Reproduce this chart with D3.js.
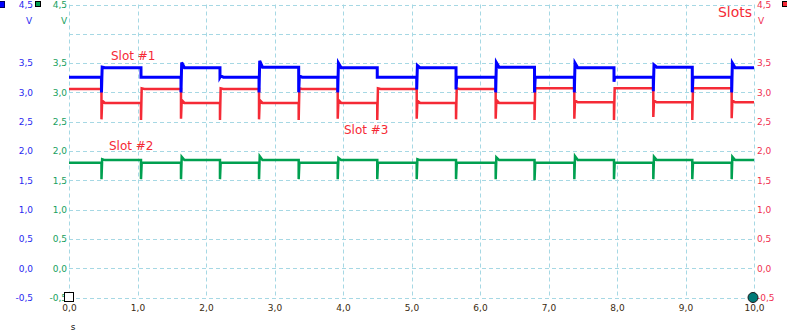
<!DOCTYPE html>
<html>
<head>
<meta charset="utf-8">
<script src="https://cdn.jsdelivr.net/npm/d3@7"></script>
<style>
  html, body { margin: 0; padding: 0; background: #fff; }
  svg { display: block; }
  text { font-family: "DejaVu Sans", sans-serif; }
</style>
</head>
<body>
<svg id="chart" width="787" height="334"></svg>
<script>
// ---- data ----
const xTicks = [0, 1, 2, 3, 4, 5, 6, 7, 8, 9, 10];
const yTicks = [-0.5, 0, 0.5, 1, 1.5, 2, 2.5, 3, 3.5, 4, 4.5];
const yLabelTicks = [-0.5, 0, 0.5, 1, 1.5, 2, 2.5, 3, 3.5, 4.5];

// times (s) of the switching edges
const edgeTimes = [0.474, 1.051, 1.635, 2.204, 2.774, 3.353, 3.923, 4.500, 5.076,
                   5.650, 6.229, 6.796, 7.377, 7.956, 8.530, 9.099, 9.674];

// Slot #1 (blue, left axis) level of each segment between edges
const slot1Levels = [3.26, 3.42, 3.26, 3.42, 3.26, 3.43, 3.26, 3.42, 3.26,
                     3.42, 3.26, 3.43, 3.26, 3.42, 3.26, 3.43, 3.26, 3.42];
const slot1Dips   = [3.00, 3.26, 3.00, 3.26, 3.00, 3.00, 3.00, 3.26, 3.05,
                     3.05, 3.00, 3.00, 3.00, 3.18, 3.02, 3.00, 3.00];
const slot1Peaks  = [3.43, 3.26, 3.51, 3.28, 3.54, 3.28, 3.50, 3.26, 3.46,
                     3.26, 3.51, 3.26, 3.50, 3.26, 3.47, 3.26, 3.50];

// Slot #2 (green, left axis)
const slot2Levels = [1.80, 1.845, 1.80, 1.845, 1.80, 1.845, 1.80, 1.845, 1.80,
                     1.845, 1.80, 1.845, 1.80, 1.845, 1.80, 1.845, 1.80, 1.845];
const slot2Dips   = [1.52, 1.52, 1.52, 1.52, 1.52, 1.52, 1.52, 1.52, 1.52,
                     1.52, 1.52, 1.50, 1.52, 1.52, 1.52, 1.52, 1.52];
const slot2Peaks  = [1.86, 1.80, 1.90, 1.80, 1.91, 1.80, 1.88, 1.80, 1.86,
                     1.80, 1.89, 1.80, 1.91, 1.80, 1.90, 1.80, 1.90];

// Slot #3 (red, right axis)
const slot3Levels = [3.06, 2.82, 3.06, 2.82, 3.06, 2.82, 3.06, 2.82, 3.06,
                     2.82, 3.06, 2.82, 3.07, 2.83, 3.07, 2.83, 3.07, 2.83];
const slot3Dips   = [2.54, 2.53, 2.55, 2.53, 2.54, 2.53, 2.55, 2.53, 2.55,
                     2.54, 2.55, 2.53, 2.55, 2.53, 2.58, 2.53, 2.56];
const slot3Peaks  = [2.86, 3.07, 2.87, 3.07, 2.87, 3.07, 2.87, 3.07, 2.86,
                     3.07, 2.87, 3.07, 2.86, 3.07, 2.86, 3.07, 2.86];

// ---- layout ----
const svg = d3.select("#chart");
const x = d3.scaleLinear().domain([0, 10]).range([69, 754]);
const y = d3.scaleLinear().domain([-0.5, 4.5]).range([297.5, 4.5]);

const loc = d3.formatLocale({decimal: ",", thousands: ".", grouping: [3], currency: ["", ""], minus: "-"});
const fmt = loc.format(".1f");

// grid
const gridColor = "#a6d8e4";
const grid = svg.append("g");
grid.selectAll("line.v").data(xTicks).join("line")
  .attr("x1", d => Math.round(x(d)) + 0.5).attr("x2", d => Math.round(x(d)) + 0.5)
  .attr("y1", y(4.5)).attr("y2", y(-0.5))
  .attr("stroke", gridColor).attr("stroke-dasharray", "4,3").attr("stroke-width", 1);
grid.selectAll("line.h").data(yTicks).join("line")
  .attr("x1", x(0)).attr("x2", x(10))
  .attr("y1", d => Math.round(y(d)) + 0.5).attr("y2", d => Math.round(y(d)) + 0.5)
  .attr("stroke", gridColor).attr("stroke-dasharray", "4,3").attr("stroke-width", 1);

// axes
function styleAxis(g, color) {
  g.select(".domain").remove();
  g.selectAll(".tick line").remove();
  g.selectAll("text").attr("fill", color).style("font-family", "DejaVu Sans").style("font-size", "9px");
}
svg.append("g").attr("transform", "translate(33,0)")
  .call(d3.axisLeft(y).tickValues(yLabelTicks).tickFormat(fmt).tickSize(0).tickPadding(0))
  .call(g => styleAxis(g, "#2a2af0"));
svg.append("g").attr("transform", "translate(67,0)")
  .call(d3.axisLeft(y).tickValues(yLabelTicks).tickFormat(fmt).tickSize(0).tickPadding(0))
  .call(g => styleAxis(g, "#16a060"));
svg.append("g").attr("transform", "translate(757,0)")
  .call(d3.axisRight(y).tickValues(yLabelTicks).tickFormat(fmt).tickSize(0).tickPadding(0))
  .call(g => styleAxis(g, "#f03050"));
svg.append("g").attr("transform", "translate(0,305)")
  .call(d3.axisBottom(x).tickValues(xTicks).tickFormat(fmt).tickSize(0).tickPadding(0))
  .call(g => styleAxis(g, "#3a2a10"));

// unit labels
const unit = (tx, ty, t, c) => svg.append("text").attr("x", tx).attr("y", ty).attr("text-anchor", "middle")
  .attr("fill", c).style("font-size", "9px").text(t);
unit(29, 24, "V", "#2a2af0");
unit(64, 24, "V", "#16a060");
unit(761, 24, "V", "#f03050");
unit(73, 330, "s", "#111");

// series
function build(levels, dips, peaks) {
  const pts = [[0, levels[0]]];
  edgeTimes.forEach((e, k) => {
    pts.push([e, levels[k]], [e, dips[k]], [e + 0.01, peaks[k]], [e + 0.05, levels[k + 1]]);
  });
  pts.push([10, levels[levels.length - 1]]);
  return pts;
}
const line = d3.line().x(d => x(d[0])).y(d => y(d[1]));
const series = [
  {pts: build(slot3Levels, slot3Dips, slot3Peaks), color: "#f52a36", w: 2.5},
  {pts: build(slot2Levels, slot2Dips, slot2Peaks), color: "#00a050", w: 2.5},
  {pts: build(slot1Levels, slot1Dips, slot1Peaks), color: "#0000ff", w: 3}
];
svg.append("g").selectAll("path").data(series).join("path")
  .attr("d", d => line(d.pts)).attr("fill", "none")
  .attr("stroke", d => d.color).attr("stroke-width", d => d.w)
  .attr("stroke-linejoin", "miter");

// annotations
const ann = (tx, ty, t, size, anchor) => svg.append("text").attr("x", tx).attr("y", ty)
  .attr("text-anchor", anchor).attr("fill", "#f52a36").style("font-size", size).text(t);
ann(111, 60, "Slot #1", "12px", "start");
ann(109, 150, "Slot #2", "12px", "start");
ann(344, 134, "Slot #3", "12px", "start");
ann(752, 17, "Slots", "14px", "end");

// legend markers / cursors
svg.append("rect").attr("x", -2.5).attr("y", 1.5).attr("width", 7).attr("height", 6)
  .attr("fill", "#0000ff").attr("stroke", "#000060");
svg.append("rect").attr("x", 35.5).attr("y", 1.5).attr("width", 5).attr("height", 5)
  .attr("fill", "#00a050").attr("stroke", "#000");
svg.append("rect").attr("x", 782.5).attr("y", 1.5).attr("width", 6).attr("height", 5)
  .attr("fill", "#f52a36").attr("stroke", "#000");
svg.append("rect").attr("x", 64.5).attr("y", 292.5).attr("width", 9).attr("height", 9)
  .attr("fill", "#fff").attr("stroke", "#000");
svg.append("circle").attr("cx", x(10) - 1).attr("cy", y(-0.5)).attr("r", 5)
  .attr("fill", "#007a78").attr("stroke", "#1a1a1a");
</script>
</body>
</html>
